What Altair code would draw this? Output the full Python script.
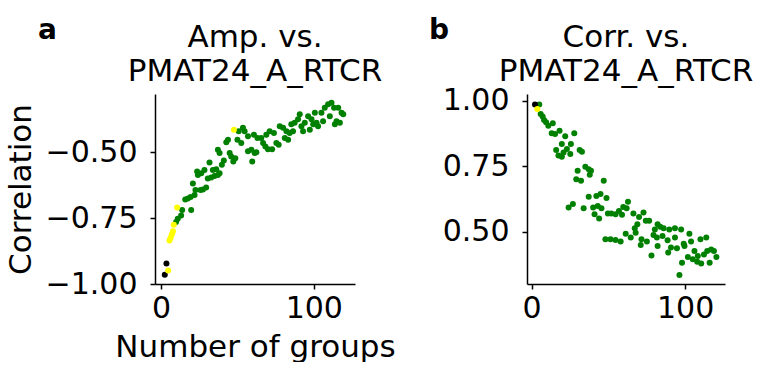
import altair as alt
import pandas as pd

# ---------------- Panel a: Amp. vs. PMAT24_A_RTCR ----------------
a_black_x = [2.4, 3.5]
a_black_y = [-0.965, -0.922]
a_yellow_x = [4.6, 5.5, 6.2, 7.0, 7.8, 8.3, 10.5, 47.7]
a_yellow_y = [-0.949, -0.835, -0.825, -0.812, -0.800, -0.775, -0.710, -0.415]
a_green_x = [9.8, 10.9, 13.1, 13.8, 19.7, 15.8, 17.5, 19.3, 21.9, 22.5, 20.8, 25.8, 27.4, 29.5,
             24.1, 26.3, 23.6, 28.4, 30.6, 32.8, 35.0, 37.2, 38.3, 33.9, 36.1, 31.7, 39.8, 41.1,
             38.3, 37.2, 42.7, 43.8, 44.9, 45.9, 48.6, 47.3, 50.0, 50.8, 53.6, 54.7, 52.5, 56.9,
             56.9, 59.1, 61.3, 62.4, 59.7, 60.8, 63.1, 65.6, 66.8, 68.3, 70.0, 72.7, 68.9, 71.1,
             73.9, 75.5, 77.0, 77.7, 79.9, 81.0, 83.2, 82.1, 84.2, 86.4, 87.5, 85.3, 89.7, 90.8,
             91.9, 93.0, 94.1, 96.3, 97.4, 98.5, 99.6, 100.7, 101.8, 102.8, 105.0, 106.1, 107.2,
             109.4, 110.5, 111.6, 113.3, 113.8, 114.9, 116.0, 117.1, 118.2, 119.3]
a_green_y = [-0.765, -0.753, -0.740, -0.720, -0.720, -0.680, -0.676, -0.670, -0.663, -0.644, -0.619,
             -0.644, -0.642, -0.634, -0.587, -0.580, -0.574, -0.568, -0.600, -0.596, -0.591, -0.587,
             -0.580, -0.568, -0.565, -0.540, -0.548, -0.532, -0.504, -0.491, -0.463, -0.453, -0.504,
             -0.517, -0.523, -0.536, -0.453, -0.421, -0.408, -0.421, -0.466, -0.440, -0.497, -0.491,
             -0.504, -0.501, -0.536, -0.434, -0.447, -0.447, -0.466, -0.479, -0.489, -0.489, -0.434,
             -0.421, -0.428, -0.466, -0.472, -0.402, -0.408, -0.447, -0.453, -0.421, -0.428, -0.421,
             -0.389, -0.395, -0.376, -0.357, -0.402, -0.421, -0.389, -0.364, -0.415, -0.376, -0.395,
             -0.351, -0.389, -0.402, -0.351, -0.383, -0.332, -0.319, -0.364, -0.313, -0.332, -0.395,
             -0.383, -0.332, -0.389, -0.351, -0.357]

# ---------------- Panel b: Corr. vs. PMAT24_A_RTCR ----------------
b_black_x = [2.2]
b_black_y = [0.985]
b_yellow_x = [3.7]
b_yellow_y = [0.968]
b_green_x = [5.0, 5.9, 7.2, 8.1, 9.4, 10.9, 13.8, 13.1, 15.3, 18.2, 21.9, 27.8, 19.7, 25.6, 16.0,
             23.0, 20.8, 17.5, 19.7, 25.2, 31.3, 32.8, 35.0, 37.2, 38.7, 37.9, 30.0, 29.1, 32.2,
             47.0, 24.1, 26.9, 33.9, 37.2, 42.2, 44.9, 48.8, 40.1, 43.1, 45.5, 41.0, 44.0, 49.7,
             51.9, 54.7, 56.9, 59.7, 62.8, 61.9, 58.9, 66.3, 70.0, 72.9, 74.4, 76.6, 68.9, 67.2,
             61.3, 64.6, 67.8, 48.1, 51.4, 54.7, 58.0, 71.6, 75.1, 71.1, 82.1, 83.8, 86.0, 80.3,
             79.4, 81.6, 85.3, 89.7, 93.4, 97.4, 93.4, 88.6, 82.1, 90.8, 94.7, 89.0, 78.1, 99.1,
             102.8, 103.9, 99.6, 106.1, 101.8, 105.0, 107.9, 110.5, 110.0, 113.8, 112.3, 114.4,
             117.0, 118.8, 120.4, 116.0, 98.0, 96.3, 108.3]
b_green_y = [0.985, 0.949, 0.939, 0.926, 0.917, 0.904, 0.913, 0.875, 0.872, 0.885, 0.864, 0.875,
             0.834, 0.834, 0.811, 0.815, 0.802, 0.790, 0.786, 0.796, 0.811, 0.805, 0.747, 0.738,
             0.732, 0.717, 0.732, 0.700, 0.694, 0.694, 0.592, 0.605, 0.589, 0.633, 0.636, 0.643,
             0.628, 0.592, 0.598, 0.589, 0.566, 0.550, 0.569, 0.569, 0.566, 0.579, 0.594, 0.614,
             0.589, 0.564, 0.569, 0.556, 0.573, 0.541, 0.541, 0.528, 0.513, 0.492, 0.477, 0.496,
             0.471, 0.471, 0.468, 0.462, 0.471, 0.462, 0.449, 0.528, 0.518, 0.513, 0.508, 0.487,
             0.477, 0.483, 0.508, 0.513, 0.508, 0.477, 0.467, 0.445, 0.439, 0.436, 0.420, 0.409,
             0.454, 0.492, 0.462, 0.445, 0.426, 0.403, 0.394, 0.385, 0.378, 0.471, 0.477, 0.413,
             0.426, 0.432, 0.426, 0.403, 0.381, 0.381, 0.334, 0.407]

groups = ["baseline", "early", "main"]
group_colors = ["#000000", "#ffff00", "#008000"]

x_ticks = [0, 100]
a_y_ticks = [-1.00, -0.75, -0.50]
b_y_ticks = [0.50, 0.75, 1.00]

a_title = ["Amp. vs.", "PMAT24_A_RTCR"]
b_title = ["Corr. vs.", "PMAT24_A_RTCR"]


def frame(bx, by, yx, yy, gx, gy):
    rows = []
    rows += [{"n": x, "v": y, "grp": "main"} for x, y in zip(gx, gy)]
    rows += [{"n": x, "v": y, "grp": "baseline"} for x, y in zip(bx, by)]
    rows += [{"n": x, "v": y, "grp": "early"} for x, y in zip(yx, yy)]
    df = pd.DataFrame(rows)
    df["order"] = df["grp"].map({"main": 0, "baseline": 1, "early": 2})
    return df


df_a = frame(a_black_x, a_black_y, a_yellow_x, a_yellow_y, a_green_x, a_green_y)
df_b = frame(b_black_x, b_black_y, b_yellow_x, b_yellow_y, b_green_x, b_green_y)

FONT = "DejaVu Sans"
FS = 30      # tick labels
TFS = 31     # titles
H = 190

color = alt.Color("grp:N", scale=alt.Scale(domain=groups, range=group_colors), legend=None)


def axis(values, fmt, title, label_pad, title_pad):
    return alt.Axis(values=values, format=fmt, grid=False, tickSize=5,
                    labelPadding=label_pad, titlePadding=title_pad,
                    labelFont=FONT, titleFont=FONT, labelFontSize=FS, titleFontSize=TFS,
                    labelColor="black", titleColor="black", domainColor="black",
                    tickColor="black", domainWidth=1.5, tickWidth=1.5,
                    titleFontWeight="normal", labelFlush=False, labelOverlap=False,
                    title=title if title is not None else "")


def text_mark(s, x, y, size, weight, align):
    return alt.Chart(pd.DataFrame({"t": [s]})).mark_text(
        font=FONT, fontSize=size, fontWeight=weight, align=align,
        baseline="alphabetic", color="black"
    ).encode(text="t:N", x=alt.value(x), y=alt.value(y))


def panel(df, title_lines, xdom, ydom, yticks, width, xtitle, ytitle):
    pts = alt.Chart(df).mark_circle(size=36, opacity=1).encode(
        x=alt.X("n:Q", scale=alt.Scale(domain=xdom, nice=False, zero=False),
                axis=axis(x_ticks, "d", xtitle, 4, 9)),
        y=alt.Y("v:Q", scale=alt.Scale(domain=ydom, nice=False, zero=False),
                axis=axis(yticks, ".2f", ytitle, 13, 8)),
        color=color,
        order="order:Q",
    )
    t1 = text_mark(title_lines[0], width / 2, -47, TFS, "normal", "center")
    t2 = text_mark(title_lines[1], width / 2, -13, TFS, "normal", "center")
    return pts, t1, t2


pa_layers = panel(df_a, a_title, [-4, 127], [-1.0, -0.28], a_y_ticks, 200,
                  "Number of groups", "Correlation")
pb_layers = panel(df_b, b_title, [-3, 126], [0.30, 1.025], b_y_ticks, 198, None, None)

la = text_mark("a", -117, -55, 28, "bold", "left")
lb = text_mark("b", -98, -55, 28, "bold", "left")

pa = alt.layer(*pa_layers, la).properties(width=200, height=H)
pb = alt.layer(*pb_layers, lb).properties(width=198, height=H)

chart = alt.hconcat(pa, pb, spacing=33).properties(
    padding={"left": 5, "top": 17, "right": 0, "bottom": 0},
    background="white",
).configure_view(stroke=None)

chart.save("out.html", embed_options={"renderer": "svg", "actions": False})
